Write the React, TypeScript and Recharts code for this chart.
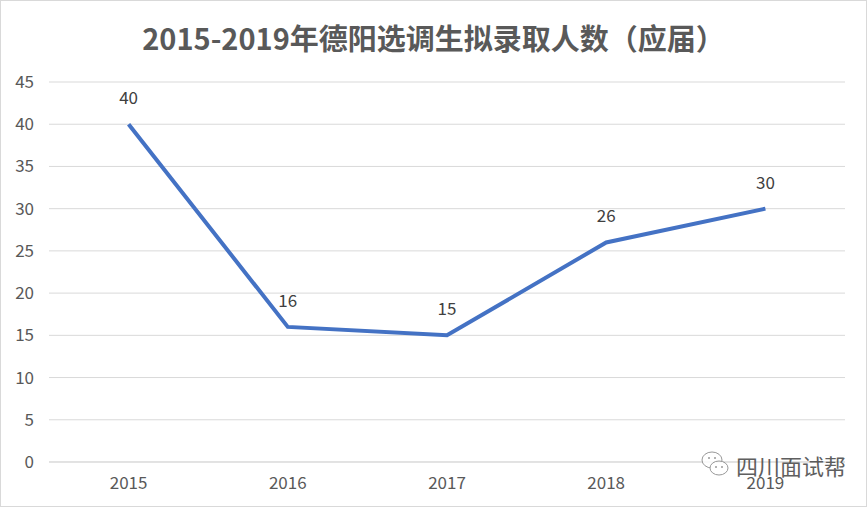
import React from 'react';
import { LineChart, Line, XAxis, YAxis, CartesianGrid, LabelList } from 'recharts';

const years = ['2015', '2016', '2017', '2018', '2019'];
const admitted = [40, 16, 15, 26, 30];
const yTicks = [0, 5, 10, 15, 20, 25, 30, 35, 40, 45];

const chartData = years.map((year, i) => ({ year, count: admitted[i] }));

const FONT = '"Noto Sans CJK SC", "Noto Sans", sans-serif';

export default function App() {
  return (
    <div style={{ position: 'relative', width: 867, height: 507, background: '#fff', fontFamily: FONT }}>
      <style>{'body{margin:0}'}</style>
      <div style={{ position: 'absolute', left: 0, top: 0, width: 865, height: 505, border: '1px solid #d9d9d9' }} />
      <div style={{ position: 'absolute', left: 0, top: 17, width: 867, textAlign: 'center', fontSize: 29, fontWeight: 'bold', color: '#595959', lineHeight: '40px' }}>
        2015-2019年德阳选调生拟录取人数（应届）
      </div>
      <LineChart width={867} height={507} data={chartData} margin={{ top: 82, right: 22, bottom: 0, left: 0 }}>
        <CartesianGrid vertical={false} stroke="#d9d9d9" strokeWidth={1} />
        <XAxis
          dataKey="year"
          scale="band"
          height={45}
          axisLine={{ stroke: '#d9d9d9' }}
          tickLine={false}
          tickMargin={9}
          tick={{ fill: '#595959', fontSize: 17, fontFamily: FONT }}
        />
        <YAxis
          width={49}
          domain={[0, 45]}
          ticks={yTicks}
          axisLine={false}
          tickLine={false}
          tickMargin={9}
          tick={{ fill: '#595959', fontSize: 17, fontFamily: FONT }}
        />
        <Line
          type="linear"
          dataKey="count"
          stroke="#4472C4"
          strokeWidth={4}
          dot={false}
          isAnimationActive={false}
        >
          <LabelList dataKey="count" position="top" offset={20} fill="#404040" fontSize={17} fontFamily={FONT} />
        </Line>
      </LineChart>
      <div style={{ position: 'absolute', left: 700, top: 449, display: 'flex', alignItems: 'center', opacity: 0.85 }}>
        <svg width={32} height={32} viewBox="0 0 32 32">
          <ellipse cx={12} cy={11} rx={10} ry={8} fill="#fff" stroke="#888" strokeWidth={1} />
          <ellipse cx={19} cy={19} rx={9} ry={7} fill="#fff" stroke="#888" strokeWidth={1} />
          <circle cx={9} cy={9} r={1} fill="#888" />
          <circle cx={15} cy={9} r={1} fill="#888" />
          <circle cx={16} cy={18} r={1} fill="#888" />
          <circle cx={22} cy={18} r={1} fill="#888" />
        </svg>
        <span style={{ marginLeft: 4, fontSize: 22, color: '#444', letterSpacing: 0 }}>四川面试帮</span>
      </div>
    </div>
  );
}
